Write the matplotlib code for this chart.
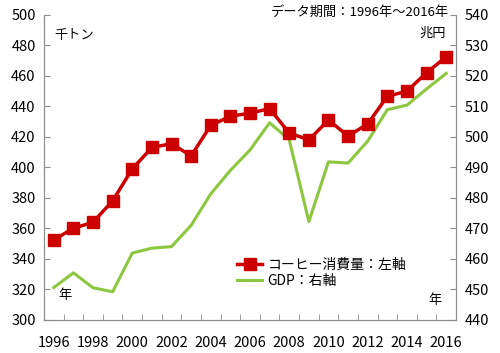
import matplotlib
matplotlib.use("Agg")
import matplotlib.pyplot as plt

plt.rcParams['font.family'] = ['Noto Sans CJK JP', 'DejaVu Sans']
plt.rcParams['font.size'] = 10

# データ
years = list(range(1996, 2017))
coffee = [352.5, 360, 364, 378, 399, 413, 415.5, 407.5, 427.5, 433.5, 435.5,
          438.5, 422.5, 418, 431, 420.5, 428.5, 446.5, 450, 462, 472.5]
gdp = [450.6, 455.4, 450.5, 449.2, 461.9, 463.5, 464.0, 471.0, 481.3, 489.0, 495.7,
       504.6, 499.0, 472.2, 491.8, 491.4, 498.6, 508.9, 510.4, 515.7, 520.8]
left_ticks = list(range(300, 501, 20))
right_ticks = list(range(440, 541, 10))
year_labels = list(range(1996, 2017, 2))

red = '#CC0000'
green = '#8DC63F'
gray = '#8C8C8C'

fig = plt.figure(figsize=(5.0, 3.53), dpi=100)
ax = fig.add_axes([0.088, 0.094, 0.824, 0.864])
ax2 = ax.twinx()

# GDP（右軸）
l2, = ax2.plot(years, gdp, color=green, lw=2.2, label='GDP：右軸', zorder=2)
# コーヒー消費量（左軸）
l1, = ax.plot(years, coffee, color=red, lw=2.5, marker='s', ms=8.5,
              label='コーヒー消費量：左軸')
ax.set_zorder(ax2.get_zorder() + 1)
ax.patch.set_visible(False)

ax.set_xlim(1995.5, 2016.5)
ax.set_ylim(300, 500)
ax2.set_ylim(440, 540)
ax.set_yticks(left_ticks)
ax2.set_yticks(right_ticks)
ax.set_xticks(year_labels)
ax.set_xticks([y + 0.5 for y in years[:-1]], minor=True)

for a in (ax, ax2):
    a.spines['top'].set_visible(False)
    for s in ('left', 'right', 'bottom'):
        a.spines[s].set_color(gray)
ax.tick_params(axis='y', direction='in', length=4, color=gray, labelsize=10.5, pad=6)
ax2.tick_params(axis='y', direction='in', length=4, color=gray, labelsize=10.5, pad=6)
ax.tick_params(axis='x', which='major', length=0, labelsize=10.5, pad=12)
ax.tick_params(axis='x', which='minor', direction='in', length=4, color=gray)

ax.text(0.025, 0.955, '千トン', transform=ax.transAxes, fontsize=9.5, va='top')
ax2.text(0.975, 0.96, '兆円', transform=ax.transAxes, fontsize=9.5, va='top', ha='right')
ax.text(0.035, 0.1, '年', transform=ax.transAxes, fontsize=9.5, va='top')
ax.text(0.965, 0.085, '年', transform=ax.transAxes, fontsize=9.5, va='top', ha='right')
fig.text(0.898, 0.982, 'データ期間：1996年～2016年', fontsize=9.5, va='top', ha='right')

ax.legend(handles=[l1, l2], loc='lower left', bbox_to_anchor=(0.455, 0.085),
          frameon=False, fontsize=10, handlelength=1.8, handletextpad=0.4,
          labelspacing=0.2, borderaxespad=0)

fig.savefig('out.png', dpi=100)
